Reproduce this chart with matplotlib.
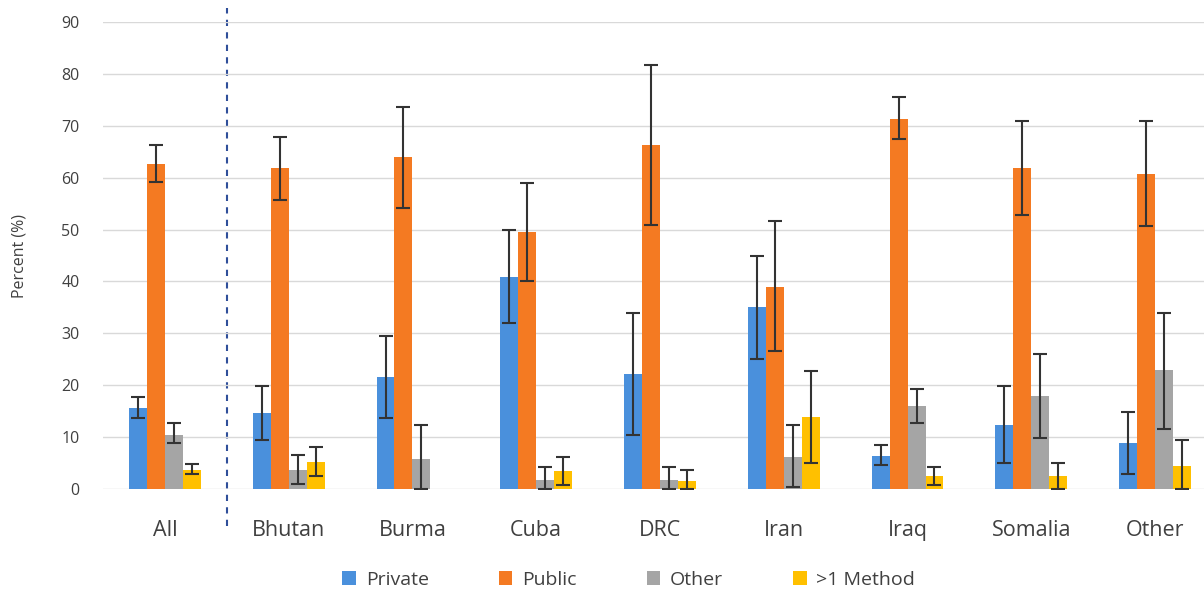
import numpy as np
import matplotlib.pyplot as plt

plt.rcParams['font.family'] = ['Open Sans', 'DejaVu Sans']

groups = ['All', 'Bhutan', 'Burma', 'Cuba', 'DRC', 'Iran', 'Iraq', 'Somalia', 'Other']
series = ['Private', 'Public', 'Other', '>1 Method']

# bar heights (%)
private = [15.7, 14.6, 21.6, 40.8, 22.1, 35.0, 6.3, 12.4, 8.8]
public = [62.7, 61.9, 64.0, 49.5, 66.2, 39.0, 71.4, 61.9, 60.8]
other = [10.5, 3.6, 5.8, 1.8, 1.8, 6.2, 16.0, 17.9, 22.9]
multi = [3.7, 5.2, 0.0, 3.5, 1.5, 13.8, 2.6, 2.6, 4.5]

# error bar ends (low, high)
private_lo = [13.6, 9.4, 13.7, 31.9, 10.5, 25.0, 4.7, 5.0, 2.9]
private_hi = [17.8, 19.9, 29.5, 49.9, 34.0, 45.0, 8.4, 19.9, 14.9]
public_lo = [59.2, 55.6, 54.2, 40.0, 50.8, 26.5, 67.5, 52.9, 50.6]
public_hi = [66.2, 67.9, 73.7, 58.9, 81.7, 51.7, 75.6, 70.9, 70.9]
other_lo = [8.8, 1.0, 0.0, 0.0, 0.0, 0.4, 12.7, 9.8, 11.6]
other_hi = [12.7, 6.6, 12.3, 4.3, 4.3, 12.3, 19.3, 26.1, 34.0]
multi_lo = [2.9, 2.6, None, 0.7, 0.0, 5.0, 0.7, 0.0, 0.0]
multi_hi = [4.8, 8.0, None, 6.2, 3.6, 22.8, 4.3, 5.1, 9.4]

colors = ['#4a90dc', '#f47a22', '#a5a5a5', '#ffc000']

fig = plt.figure(figsize=(12.04, 5.94), dpi=100)
ax = fig.add_axes([103 / 1204, 1 - 489 / 594, 1114 / 1204, 467 / 594])

x = np.arange(len(groups))
w = 0.145
data = [
    (private, private_lo, private_hi),
    (public, public_lo, public_hi),
    (other, other_lo, other_hi),
    (multi, multi_lo, multi_hi),
]
for i, (vals, lo, hi) in enumerate(data):
    xs = x + (i - 1.5) * w
    ax.bar(xs, vals, w, color=colors[i], label=series[i], zorder=2)
    for xi, v, l, h in zip(xs, vals, lo, hi):
        if l is None:
            continue
        ax.errorbar(xi, v, yerr=[[v - l], [h - v]], fmt='none', ecolor='#333333',
                    elinewidth=1.5, capsize=5, capthick=1.5, zorder=3)

ax.set_xlim(-0.5, len(groups) - 0.5)
ax.set_ylim(0, 90)
ax.set_yticks(range(0, 91, 10))
ax.set_xticks(x)
ax.set_xticklabels(groups, fontsize=15.5, color='#404040')
ax.tick_params(axis='y', labelsize=11.5, colors='#404040', length=0, pad=17)
ax.tick_params(axis='x', length=0, pad=22)
ax.grid(axis='y', color='#d9d9d9', lw=1, zorder=0)
for s in ax.spines.values():
    s.set_visible(False)
ax.set_ylabel('Percent (%)', fontsize=11.5, color='#404040', labelpad=24)

# separator between "All" and countries
ax.plot([0.5, 0.5], [-0.08, 1.03], transform=ax.get_xaxis_transform(),
        color='#2f4f9a', lw=1.5, ls=(0, (3, 3)), clip_on=False, zorder=1)

ax.legend(loc='center', bbox_to_anchor=(0.472, -0.195), ncol=4, frameon=False,
          fontsize=14, handlelength=0.7, handleheight=0.7, columnspacing=3.6,
          handletextpad=0.5, labelcolor='#404040')

fig.savefig('out.png', dpi=100)
